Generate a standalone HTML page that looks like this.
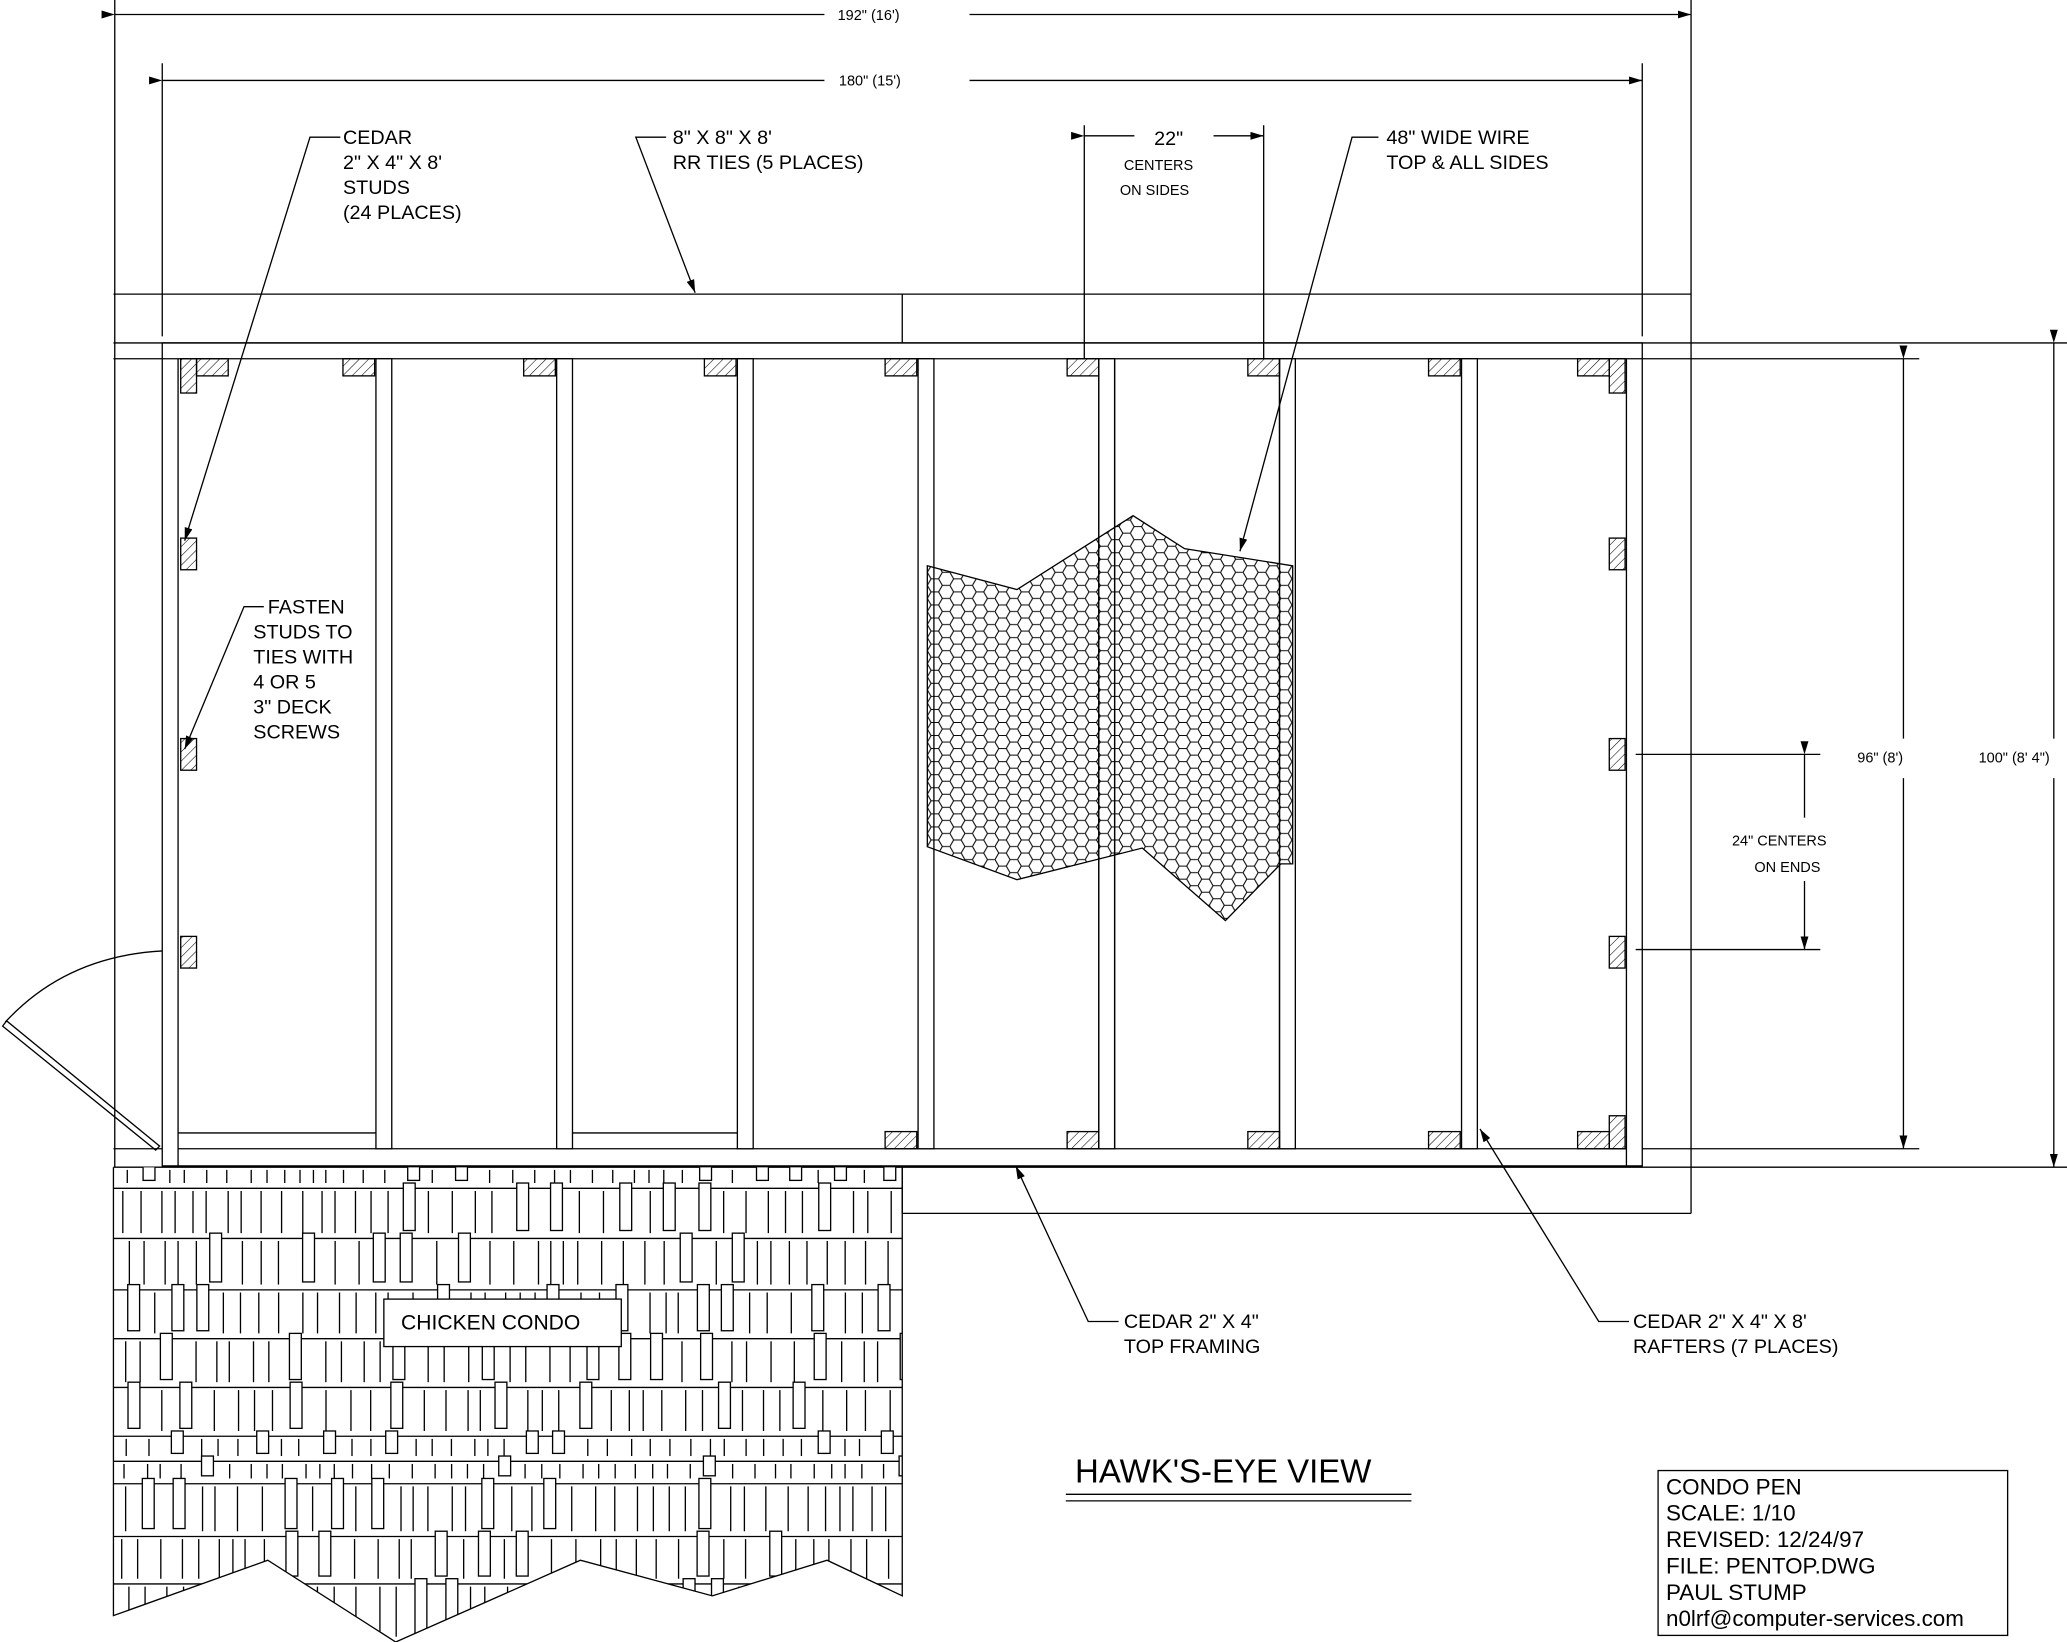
<!DOCTYPE html>
<html><head><meta charset="utf-8"><style>
html,body{margin:0;padding:0;background:#fff;}
svg{display:block;}
text{font-family:"Liberation Sans",sans-serif;fill:#000;}
</style></head><body>
<svg id="s" width="2067" height="1642" viewBox="0 0 1567 1245" preserveAspectRatio="none" xmlns="http://www.w3.org/2000/svg">
<defs>
<pattern id="hatch" width="5" height="5" patternUnits="userSpaceOnUse" patternTransform="rotate(45)">
<line x1="0" y1="0" x2="0" y2="5" stroke="#000" stroke-width="0.8"/>
</pattern>
<pattern id="hex" width="17.1" height="9.9" patternUnits="userSpaceOnUse" x="703" y="429">
<path d="M0,4.95 L2.85,0 L8.55,0 L11.4,4.95 L8.55,9.9 L2.85,9.9 Z M11.4,4.95 L17.1,4.95" fill="none" stroke="#000" stroke-width="0.8"/>
</pattern>
<clipPath id="shc"><polygon points="86,885 684,885 684,1210 627,1183 540,1210 440,1183 300,1245 203,1183 86,1225"/></clipPath>
<marker id="ar" viewBox="0 0 10 6" refX="10" refY="3" markerWidth="10" markerHeight="6" orient="auto" markerUnits="userSpaceOnUse"><path d="M0,0 L10,3 L0,6 Z" fill="#000"/></marker>
</defs>
<g stroke="#000" stroke-width="1" fill="none">
<line x1="87" y1="11" x2="625" y2="11" marker-start="url(#ar)"/>
<line x1="735" y1="11" x2="1282" y2="11" marker-end="url(#ar)"/>
<line x1="87" y1="0" x2="87" y2="885"/>
<line x1="1282" y1="0" x2="1282" y2="920"/>
<line x1="123" y1="61" x2="625" y2="61" marker-start="url(#ar)"/>
<line x1="735" y1="61" x2="1245" y2="61" marker-end="url(#ar)"/>
<line x1="123" y1="48" x2="123" y2="255"/>
<line x1="1245" y1="48" x2="1245" y2="255"/>
<line x1="86" y1="223" x2="1282" y2="223"/>
<line x1="86" y1="260" x2="1567" y2="260"/>
<line x1="684" y1="223" x2="684" y2="260"/>
<line x1="86" y1="272" x2="1455" y2="272"/>
<rect x="123" y="260" width="1122" height="624"/>
<line x1="135" y1="272" x2="135" y2="884"/>
<line x1="1233" y1="272" x2="1233" y2="884"/>
<line x1="135" y1="871" x2="1233" y2="871"/>
<line x1="1245" y1="871" x2="1455" y2="871"/>
<line x1="86" y1="871" x2="123" y2="871"/>
<line x1="86" y1="885" x2="1567" y2="885"/>
<line x1="135" y1="859" x2="285" y2="859"/>
<line x1="434" y1="859" x2="559" y2="859"/>
<line x1="684" y1="885" x2="684" y2="920"/>
<line x1="684" y1="920" x2="1282" y2="920"/>
<g id="studs"></g>
<path d="M123,721 Q50,725 4,775"/>
<path d="M2,778 L118,872 L121,869 L5,774 Z"/>
<line x1="1443" y1="272" x2="1443" y2="560" marker-start="url(#ar)"/>
<line x1="1443" y1="590" x2="1443" y2="871" marker-end="url(#ar)"/>
<line x1="1557" y1="260" x2="1557" y2="560" marker-start="url(#ar)"/>
<line x1="1557" y1="590" x2="1557" y2="885" marker-end="url(#ar)"/>
<line x1="1240" y1="572" x2="1380" y2="572"/>
<line x1="1240" y1="720" x2="1380" y2="720"/>
<line x1="1368" y1="572" x2="1368" y2="620" marker-start="url(#ar)"/>
<line x1="1368" y1="668" x2="1368" y2="720" marker-end="url(#ar)"/>
<line x1="822" y1="95" x2="822" y2="272"/>
<line x1="958" y1="95" x2="958" y2="272"/>
<line x1="822" y1="103" x2="860" y2="103" marker-start="url(#ar)"/>
<line x1="920" y1="103" x2="958" y2="103" marker-end="url(#ar)"/>
<polyline points="258,104 235,104 140,410" marker-end="url(#ar)"/>
<polyline points="505,104 482,104 527,222" marker-end="url(#ar)"/>
<polyline points="200,460 185,460 140,568" marker-end="url(#ar)"/>
<polyline points="1045,104 1025,104 940,418" marker-end="url(#ar)"/>
<polyline points="848,1002 825,1002 770,884" marker-end="url(#ar)"/>
<polyline points="1235,1002 1212,1002 1122,856" marker-end="url(#ar)"/>
<polygon points="703,429 771,447 859,391 898,416 980,429 980,655 971,655 929,698 866,643 771,667 703,642" fill="url(#hex)"/>
<line x1="833" y1="272" x2="833" y2="871"/><line x1="845" y1="272" x2="845" y2="871"/>
<line x1="970" y1="272" x2="970" y2="871"/>
<g id="sh" clip-path="url(#shc)"></g>
<polyline points="86,885 86,1225 203,1183 300,1245 440,1183 540,1210 627,1183 684,1210 684,885"/>
<rect x="291" y="985" width="180" height="36" fill="#fff"/>
<line x1="808" y1="1133" x2="1070" y2="1133"/>
<line x1="808" y1="1138" x2="1070" y2="1138"/>
<rect x="1257" y="1115" width="265" height="125"/>
</g>
<g font-size="15">
<text x="260" y="109">CEDAR</text>
<text x="260" y="128">2" X 4" X 8'</text>
<text x="260" y="147">STUDS</text>
<text x="260" y="166">(24 PLACES)</text>
<text x="510" y="109">8" X 8" X 8'</text>
<text x="510" y="128">RR TIES (5 PLACES)</text>
<text x="1051" y="109">48" WIDE WIRE</text>
<text x="1051" y="128">TOP &amp; ALL SIDES</text>
<text x="875" y="110">22"</text>
<text x="203" y="465">FASTEN</text>
<text x="192" y="484">STUDS TO</text>
<text x="192" y="503">TIES WITH</text>
<text x="192" y="522">4 OR 5</text>
<text x="192" y="541">3" DECK</text>
<text x="192" y="560">SCREWS</text>
<text x="852" y="1007">CEDAR 2" X 4"</text>
<text x="852" y="1026">TOP FRAMING</text>
<text x="1238" y="1007">CEDAR 2" X 4" X 8'</text>
<text x="1238" y="1026">RAFTERS (7 PLACES)</text>
<text x="304" y="1008" font-size="16">CHICKEN CONDO</text>
</g>
<g font-size="11">
<text x="635" y="15">192" (16')</text>
<text x="636" y="65">180" (15')</text>
<text x="852" y="129">CENTERS</text>
<text x="849" y="148">ON SIDES</text>
<text x="1313" y="641">24" CENTERS</text>
<text x="1330" y="661">ON ENDS</text>
<text x="1408" y="578">96" (8')</text>
<text x="1500" y="578">100" (8' 4")</text>
</g>
<text x="815" y="1124" font-size="25">HAWK'S-EYE VIEW</text>
<g font-size="17">
<text x="1263" y="1133">CONDO PEN</text>
<text x="1263" y="1153">SCALE: 1/10</text>
<text x="1263" y="1173">REVISED: 12/24/97</text>
<text x="1263" y="1193">FILE: PENTOP.DWG</text>
<text x="1263" y="1213">PAUL STUMP</text>
<text x="1263" y="1233">n0lrf@computer-services.com</text>
</g>
</svg>
<script>
var NS="http://www.w3.org/2000/svg";
function el(p,t,a){var e=document.createElementNS(NS,t);for(var k in a)e.setAttribute(k,a[k]);p.appendChild(e);return e;}
var st=document.getElementById("studs");
[285,422,559,696,833,970,1108].forEach(function(x){
 el(st,"rect",{x:x,y:272,width:12,height:599,fill:"#fff"});
});
function hb(x,y,w,h){el(st,"rect",{x:x,y:y,width:w,height:h,fill:"url(#hatch)",stroke:"#000"});}
hb(137,272,12,26);hb(149,272,24,13);
[260,397,534,671,809,946,1083].forEach(function(x){hb(x,272,24,13);});
hb(1196,272,24,13);hb(1220,272,12,26);
[408,560,710].forEach(function(y){hb(137,y,12,24);hb(1220,y,12,24);});
[671,809,946,1083,1196].forEach(function(x){hb(x,858,24,13);});
hb(1220,846,12,25);
var sh=document.getElementById("sh");
var rows=[885,901,939,978,1015,1052,1089,1108,1125,1165,1201,1245];
var seed=11;function r(){seed=(seed*9301+49297)%233280;return seed/233280;}
for(var i=0;i<rows.length-1;i++){
 var y0=rows[i],y1=rows[i+1];
 if(i>0)el(sh,"line",{x1:86,y1:y0,x2:684,y2:y0});
 var x=90+r()*10;
 while(x<684){
  if(r()<0.18){el(sh,"rect",{x:x,y:y0-4,width:9,height:(y1-y0)-2,fill:"#fff"});x+=9;}
  else{el(sh,"line",{x1:x,y1:y0+2,x2:x,y2:y1-4});}
  x+=9+r()*10;
 }
}
</script>
</body></html>
